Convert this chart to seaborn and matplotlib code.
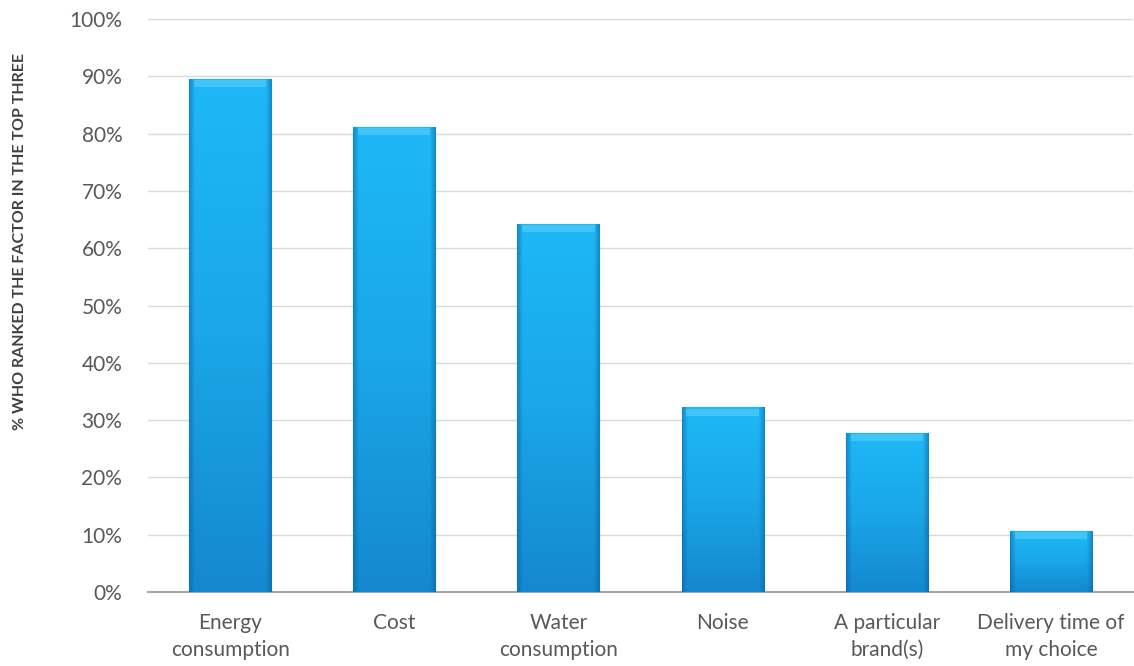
import numpy as np
import pandas as pd
import matplotlib
matplotlib.use('Agg')
import matplotlib.pyplot as plt
import seaborn as sns
from matplotlib.colors import LinearSegmentedColormap, to_rgb

# Data
categories = ['Energy\nconsumption', 'Cost', 'Water\nconsumption', 'Noise',
              'A particular\nbrand(s)', 'Delivery time of\nmy choice']
values = [89.5, 81.2, 64.3, 32.2, 27.7, 10.6]

df = pd.DataFrame({'factor': categories, 'pct': values})

sns.set_theme(style='white')
plt.rcParams['font.family'] = ['Lato', 'DejaVu Sans']

fig = plt.figure(figsize=(11.34, 6.66), dpi=100)
ax = fig.add_axes([148 / 1134, 74 / 666, 985 / 1134, 573 / 666])

sns.barplot(data=df, x='factor', y='pct', color='#1aa9e6', width=0.5,
            edgecolor='#0e6aa3', linewidth=0.8, ax=ax, zorder=3)

# vertical gradient: bright top, slightly darker bottom
vcmap = LinearSegmentedColormap.from_list('v', ['#1588d0', '#1aa6e8', '#1eb8f6'])
vgrad = np.linspace(1, 0, 128)[:, None] * np.ones((128, 2))

# darker side edges
n = 200
edge = np.zeros((2, n, 4))
edge[..., :3] = to_rgb('#0a5f99')
xs = np.linspace(0, 1, n)
a = np.clip(1 - np.minimum(xs, 1 - xs) / 0.07, 0, 1) * 0.55
edge[..., 3] = a

for p in ax.patches:
    x0, w, h = p.get_x(), p.get_width(), p.get_height()
    im = ax.imshow(vgrad, cmap=vcmap, aspect='auto', extent=[x0, x0 + w, 0, h],
                   zorder=4, interpolation='bilinear')
    im.set_clip_path(p)
    im2 = ax.imshow(edge, aspect='auto', extent=[x0, x0 + w, 0, h],
                    zorder=5, interpolation='bilinear')
    im2.set_clip_path(p)
    # top bevel highlight
    ax.fill_between([x0 + w * 0.06, x0 + w * 0.94], h - 1.4, h - 0.2,
                    color='#5fd2fb', alpha=0.55, zorder=6, linewidth=0)

ax.set_xlim(-0.5, len(categories) - 0.5)
ax.set_ylim(0, 100)
ax.set_yticks(range(0, 101, 10))
ax.set_yticklabels([f'{t}%' for t in range(0, 101, 10)])
ax.yaxis.grid(True, color='#d9d9d9', linewidth=1, zorder=0)
ax.set_axisbelow(True)
for s in ['top', 'right', 'left']:
    ax.spines[s].set_visible(False)
ax.spines['bottom'].set_color('#a6a6a6')
ax.spines['bottom'].set_linewidth(1.5)
ax.tick_params(axis='both', length=0, labelsize=15, labelcolor='#595959')
ax.tick_params(axis='y', pad=18.5)
ax.tick_params(axis='x', pad=15)
for lbl in ax.get_xticklabels():
    lbl.set_linespacing(1.45)
ax.set_xlabel('')
ax.set_ylabel('')

fig.text(20 / 1134, 1 - 242 / 666, '% WHO RANKED THE FACTOR IN THE TOP THREE',
         rotation=90, ha='center', va='center', fontsize=11.5,
         fontweight='bold', color='#404040')

fig.savefig('out.png', dpi=100)
